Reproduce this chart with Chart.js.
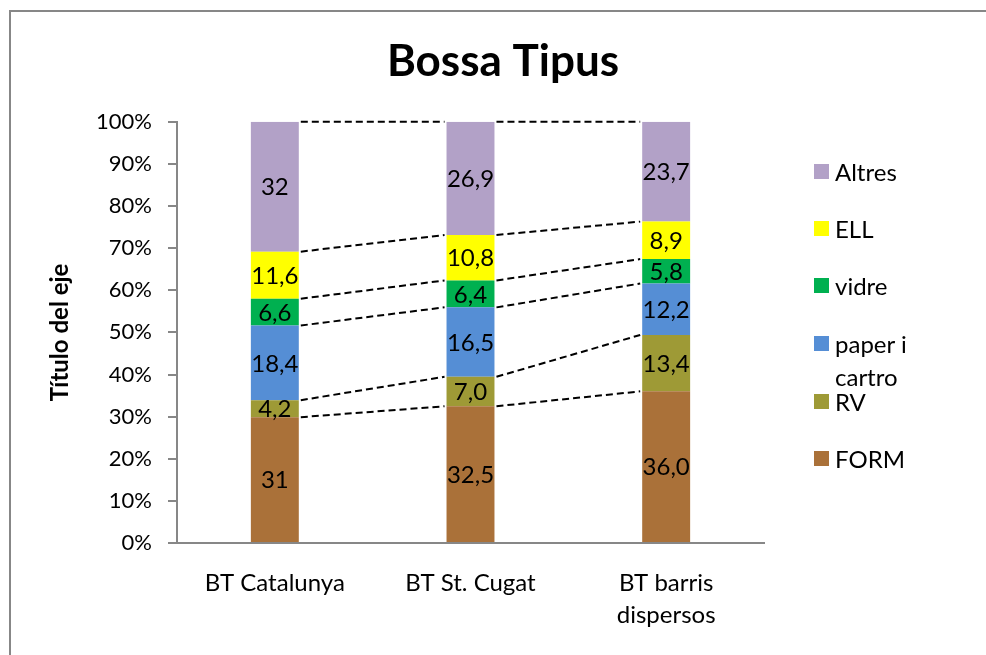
<!DOCTYPE html>
<html>
<head>
<meta charset="utf-8">
<script src="https://cdn.jsdelivr.net/npm/chart.js@4.4.0/dist/chart.umd.min.js"></script>
<style>
  body { margin: 0; background: #fff; font-family: Lato, sans-serif; }
  #frame { position: absolute; left: 9px; top: 10px; width: 1000px; height: 700px; border: 2px solid #878787; }
  #wrap { position: absolute; left: 0; top: 0; width: 986px; height: 655px; }
  #legend { position: absolute; left: 814px; top: 0; }
  .item { position: absolute; left: 0; width: 160px; font-size: 24px; line-height: 33px; color: #000; }
  .item span.box { position: absolute; left: 0; top: 9px; width: 15px; height: 15px; }
  .item span.txt { display: block; margin-left: 21px; width: 86px; }
</style>
</head>
<body>
<div id="frame"></div>
<div id="wrap"><canvas id="bossaChart" width="986" height="655"></canvas></div>
<div id="legend"></div>
<script>
var categories = ['BT Catalunya', 'BT St. Cugat', ['BT barris', 'dispersos']];
var seriesNames = ['FORM', 'RV', 'paper i cartro', 'vidre', 'ELL', 'Altres'];
var seriesColors = ['#AA7139', '#9E9A36', '#558ED5', '#00B050', '#FFFF00', '#B2A1C7'];
var form   = [31, 32.5, 36.0];
var rv     = [4.2, 7.0, 13.4];
var paper  = [18.4, 16.5, 12.2];
var vidre  = [6.6, 6.4, 5.8];
var ell    = [11.6, 10.8, 8.9];
var altres = [32, 26.9, 23.7];
var labelDecimals = [null, 1, 1];   // Catalunya labels are shown as typed
var yTicks = [0, 10, 20, 30, 40, 50, 60, 70, 80, 90, 100];

var values = [form, rv, paper, vidre, ell, altres];
var totals = [];
for (var c = 0; c < categories.length; c++) {
    var t = 0;
    for (var s = 0; s < values.length; s++) t += values[s][c];
    totals.push(t);
}

function fmt(v, c) {
    var str = labelDecimals[c] == null ? String(v) : v.toFixed(labelDecimals[c]);
    return str.replace('.', ',');
}

var datasets = values.map(function (arr, s) {
    return {
        label: seriesNames[s],
        data: arr.map(function (v, c) { return v / totals[c] * 100; }),
        raw: arr,
        backgroundColor: seriesColors[s],
        borderWidth: 0,
        categoryPercentage: 0.245,
        barPercentage: 1
    };
});

// dashed series lines between neighbouring bars + value labels
var extras = {
    id: 'extras',
    afterDatasetsDraw: function (chart) {
        var ctx = chart.ctx;
        ctx.save();
        ctx.strokeStyle = '#000';
        ctx.lineWidth = 2;
        ctx.setLineDash([7, 4]);
        chart.data.datasets.forEach(function (ds, i) {
            var els = chart.getDatasetMeta(i).data;
            for (var k = 0; k < els.length - 1; k++) {
                var a = els[k], b = els[k + 1];
                ctx.beginPath();
                ctx.moveTo(a.x + a.width / 2 + 2, a.y);
                ctx.lineTo(b.x - b.width / 2 - 2, b.y);
                ctx.stroke();
            }
        });
        ctx.setLineDash([]);
        ctx.fillStyle = '#000';
        ctx.font = '24px Lato';
        ctx.textAlign = 'center';
        ctx.textBaseline = 'middle';
        chart.data.datasets.forEach(function (ds, i) {
            chart.getDatasetMeta(i).data.forEach(function (el, c) {
                ctx.fillText(fmt(ds.raw[c], c), el.x, (el.y + el.base) / 2 + 1);
            });
        });
        ctx.restore();
    }
};

new Chart(document.getElementById('bossaChart').getContext('2d'), {
    type: 'bar',
    data: { labels: categories, datasets: datasets },
    plugins: [extras],
    options: {
        responsive: false,
        animation: false,
        layout: { padding: { top: 0, left: 20, right: 0, bottom: 0 } },
        plugins: {
            legend: { display: false },
            tooltip: { enabled: false },
            title: {
                display: true,
                text: 'Bossa Tipus',
                color: '#000',
                font: { family: 'Lato', size: 44, weight: 'bold' },
                padding: { top: 35, bottom: 34 }
            }
        },
        scales: {
            x: {
                stacked: true,
                grid: { display: false, drawTicks: false },
                border: { display: true, color: '#878787', width: 2 },
                ticks: { color: '#000', padding: 24, font: { family: 'Lato', size: 24, lineHeight: 1.35 } },
                afterFit: function (s) { s.height = 112; }
            },
            y: {
                stacked: true,
                min: 0,
                max: 100,
                afterBuildTicks: function (s) { s.ticks = yTicks.map(function (v) { return { value: v }; }); },
                grid: { drawOnChartArea: false, tickLength: 9, color: '#878787', lineWidth: 2 },
                border: { display: true, color: '#878787', width: 2 },
                ticks: {
                    color: '#000', padding: 16,
                    font: { family: 'Lato', size: 22 },
                    callback: function (v) { return v + '%'; }
                },
                title: {
                    display: true,
                    text: 'Título del eje',
                    color: '#000',
                    font: { family: 'Lato', size: 24, weight: 'bold' },
                    padding: { top: 26, bottom: 0 }
                },
                afterFit: function (s) { s.width = 157; }
            },
            // empty right-hand axis that keeps room for the legend
            yRoom: {
                position: 'right',
                display: true,
                grid: { display: false, drawTicks: false },
                border: { display: false },
                ticks: { display: false },
                afterFit: function (s) { s.width = 222; }
            }
        }
    }
});

// legend (reverse order, like the original)
var legend = document.getElementById('legend');
var legendY = [171, 228, 285, 343, 401, 458];
for (var s = seriesNames.length - 1, n = 0; s >= 0; s--, n++) {
    var item = document.createElement('div');
    item.className = 'item';
    item.style.top = (legendY[n] - 16) + 'px';
    item.innerHTML = '<span class="box" style="background:' + seriesColors[s] + '"></span><span class="txt">' + seriesNames[s] + '</span>';
    legend.appendChild(item);
}
</script>
</body>
</html>
